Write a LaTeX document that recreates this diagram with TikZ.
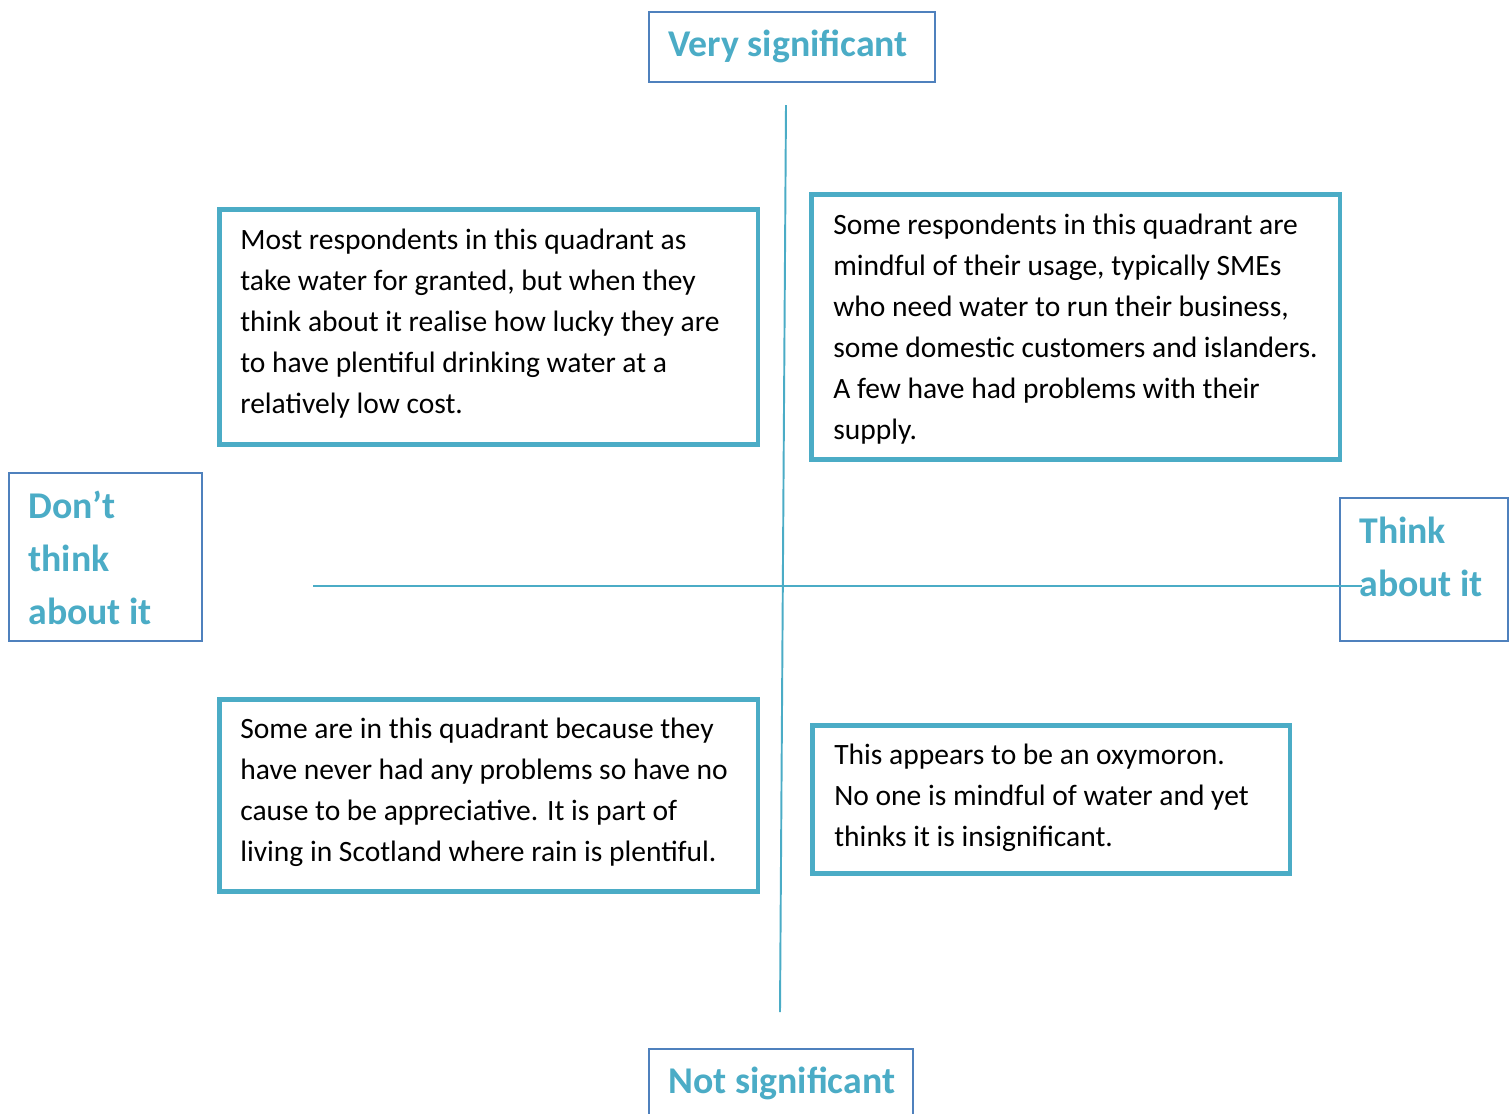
\documentclass[tikz,border=0pt]{standalone}
\usepackage{fontspec}
\setmainfont{Carlito}
\usetikzlibrary{positioning}
\definecolor{aqua}{HTML}{4BACC6}
\definecolor{steel}{HTML}{4F81BD}

\begin{document}
\begin{tikzpicture}[x=0.02cm,y=-0.02cm,
    axisline/.style={aqua,line width=1.1pt},
    quadbox/.style={draw=aqua,line width=2.6pt,anchor=north west,inner sep=0pt},
    lblbox/.style={draw=steel,line width=1.1pt,anchor=north west,inner sep=0pt},
    quadtext/.style={anchor=west,align=left,inner sep=0pt,font=\fontsize{16.8}{23.3}\selectfont},
    lbltext/.style={anchor=west,align=left,inner sep=0pt,text=aqua,font=\fontsize{21.5}{30.1}\selectfont\bfseries}]
  \useasboundingbox (0,0) rectangle (1512,1113);

  % Axis labels
  \node[lblbox,minimum width=5.72cm,minimum height=1.4cm] (vsig) at (648,11) {};
  \node[lbltext] (vsigtxt) at (668,46) {Very significant};
  \node[lblbox,minimum width=5.28cm,minimum height=1.6cm] (nsig) at (648,1048) {};
  \node[lbltext] (nsigtxt) at (668,1083) {Not significant};
  \node[lblbox,minimum width=3.86cm,minimum height=3.36cm] (dont) at (8,472) {};
  \node[lbltext] (donttxt) at (28,558) {Don’t\\think\\about it};
  \node[lblbox,minimum width=3.36cm,minimum height=2.86cm] (think) at (1339,497) {};
  \node[lbltext] (thinktxt) at (1359,556.5) {Think\\about it};

  % Axes
  \coordinate (top) at (786,105);
  \coordinate (bot) at (780,1012);
  \coordinate (lft) at (313,586);
  \coordinate (rgt) at (1362,586);
  \draw[axisline] (top) -- (bot);
  \draw[axisline] (lft) -- (rgt);

  % Quadrant boxes
  \node[quadbox,minimum width=10.78cm,minimum height=4.7cm] (qtl) at (217,207) {};
  \node[quadtext] (qtltxt) at (240,323.5) {Most respondents in this quadrant as\\take water for granted, but when they\\think about it realise how lucky they are\\to have plentiful drinking water at a\\relatively low cost.};
  \node[quadbox,minimum width=10.58cm,minimum height=5.3cm] (qtr) at (809,192) {};
  \node[quadtext] (qtrtxt) at (833,329) {Some respondents in this quadrant are\\mindful of their usage, typically SMEs\\who need water to run their business,\\some domestic customers and islanders.\\A few have had problems with their\\supply.};
  \node[quadbox,minimum width=10.78cm,minimum height=3.84cm] (qbl) at (217,697) {};
  \node[quadtext] (qbltxt) at (240,792) {Some are in this quadrant because they\\have never had any problems so have no\\cause to be appreciative. It is part of\\living in Scotland where rain is plentiful.};
  \node[quadbox,minimum width=9.56cm,minimum height=2.96cm] (qbr) at (810,723) {};
  \node[quadtext] (qbrtxt) at (834,797.5) {This appears to be an oxymoron.\\No one is mindful of water and yet\\thinks it is insignificant.};
\end{tikzpicture}
\end{document}
